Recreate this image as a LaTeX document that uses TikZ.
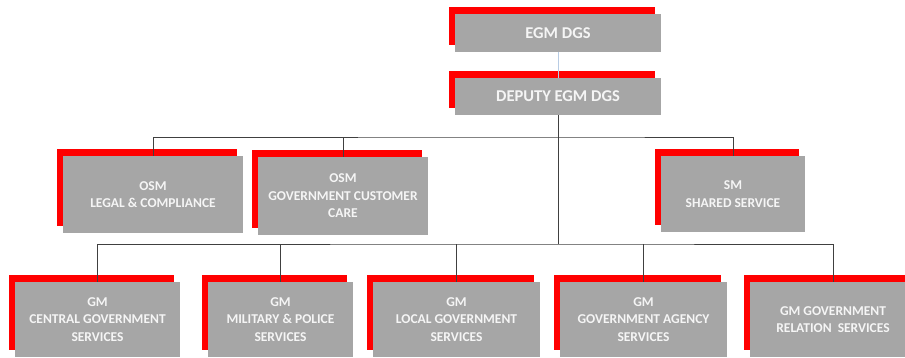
\documentclass[tikz,border=0pt]{standalone}
\usepackage{fontspec}
\setmainfont{Carlito}
\definecolor{boxgray}{RGB}{166, 166, 166}
\definecolor{boxred}{RGB}{255, 0, 0}
\definecolor{linkblue}{RGB}{184, 204, 228}
\definecolor{linkgray}{RGB}{64, 64, 64}
\pgfdeclarelayer{background}
\pgfsetlayers{background,main}
\tikzset{%
    unit/.style={%
        fill=boxgray, text=white!96!black, align=center, inner sep=0pt,
        font=\bfseries\fontsize{13.5}{17.5}\selectfont
    },
    headunit/.style={unit, minimum width=206pt, font=\bfseries\fontsize{16.5}{18}\selectfont},
    link/.style={draw=linkgray, line width=0.8pt}
}

\begin{document}
\begin{tikzpicture}[x=1pt, y=-1pt]

    \useasboundingbox (0, 0) rectangle (905, 358);

    % Head of the division
    \node[headunit, minimum height=38pt] (egm) at (558, 33) {EGM DGS};
    \node[headunit, minimum height=37pt] (dep) at (558, 96.5) {DEPUTY EGM DGS};


    % Senior managers
    \node[unit, minimum width=180pt, minimum height=77pt] (legal) at (153, 194.5)
        {OSM\\LEGAL \& COMPLIANCE};
    \node[unit, minimum width=170pt, minimum height=78pt] (care) at (343, 196)
        {OSM\\GOVERNMENT CUSTOMER\\CARE};
    \node[unit, minimum width=144pt, minimum height=76pt] (shared) at (733, 194)
        {SM\\SHARED SERVICE};


    % General managers
    \node[unit, minimum width=165pt, minimum height=75pt] (central) at (97.5, 319.5)
        {GM\\CENTRAL GOVERNMENT\\SERVICES};
    \node[unit, minimum width=145pt, minimum height=75pt] (military) at (280.5, 319.5)
        {GM\\MILITARY \& POLICE\\SERVICES};
    \node[unit, minimum width=167pt, minimum height=75pt] (local) at (456.5, 319.5)
        {GM\\LOCAL GOVERNMENT\\SERVICES};
    \node[unit, minimum width=167pt, minimum height=75pt] (agency) at (643.5, 319.5)
        {GM\\GOVERNMENT AGENCY\\SERVICES};
    \node[unit, minimum width=166pt, minimum height=75pt] (relation) at (833, 319.5)
        {GM GOVERNMENT\\RELATION~~SERVICES};


    % Red edges behind the boxes
    \begin{pgfonlayer}{background}
        \foreach \unitname in {egm, dep, legal, care, shared, central, military, local, agency, relation}{%
            \fill[boxred] ([shift={(-6, -7)}] \unitname.south west)
                rectangle ([shift={(-6, -7)}] \unitname.north east);
        };
    \end{pgfonlayer}


    % Connecting up
    \coordinate (midbus) at (558, 137);
    \coordinate (lowbus) at (558, 244);

    \draw[draw=linkblue, line width=0.8pt] (egm.south) -- (dep.north);
    \draw[link] (dep.south) -- (lowbus);

    \draw[link] (legal.north) |- (midbus) -| (shared.north);
    \draw[link] (care.north) -- (care.north |- midbus);

    \draw[link] (central.north) |- (lowbus) -| (relation.north);
    \foreach \unitname in {military, local, agency}{%
        \draw[link] (\unitname.north) -- (\unitname.north |- lowbus);
    };

\end{tikzpicture}
\end{document}
